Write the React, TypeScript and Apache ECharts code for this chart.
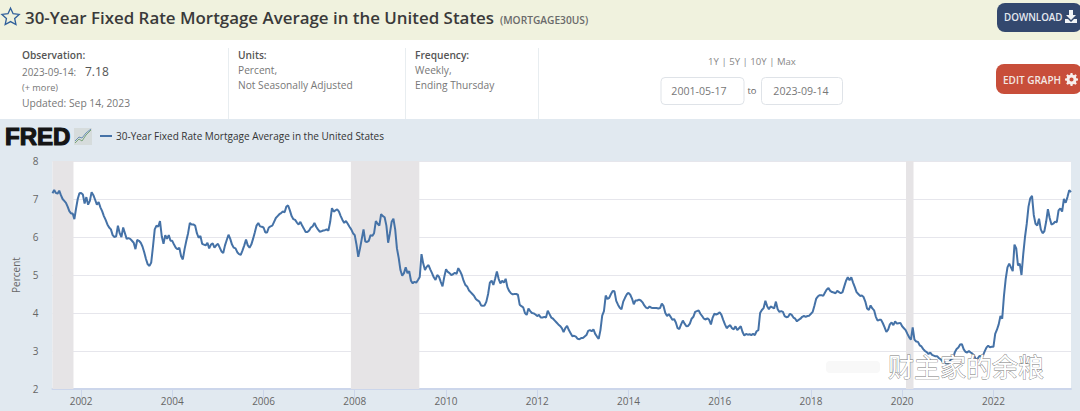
import React, { useEffect, useRef } from "react";
import * as echarts from "echarts";

const title = "30-Year Fixed Rate Mortgage Average in the United States";
const seriesId = "(MORTGAGE30US)";
const tickYears = [2002, 2004, 2006, 2008, 2010, 2012, 2014, 2016, 2018, 2020, 2022];

const rates2001 = [7.15,7.24,7.16,7.14,7.22,7.10,7.00,6.95,6.90,6.80,6.68,6.62,6.62,6.47,6.75,7.00,7.15];
const rates2002 = [7.16,7.12,6.88,7.05,6.85,6.95,7.18,7.10,6.98,6.85,6.92,6.78,6.68,6.55,6.45,6.33,6.25,6.20,6.05,6.00,6.02,6.30,6.10,6.00,6.25,6.10];
const rates2003 = [5.95,5.97,5.95,5.90,5.85,5.68,5.92,5.90,5.85,5.75,5.60,5.42,5.28,5.24,5.33,5.75,6.20,6.30,6.27,6.42,6.02,5.82,6.05,5.95,6.05,5.90];
const rates2004 = [5.90,5.80,5.72,5.68,5.72,5.50,5.41,5.68,5.90,6.10,6.37,6.33,6.33,6.30,6.10,5.98,6.03,5.82,5.80,5.78,5.85,5.70,5.80,5.83,5.72,5.78];
const rates2005 = [5.82,5.72,5.62,5.58,5.78,5.92,6.06,5.95,5.80,5.72,5.70,5.60,5.55,5.53,5.65,5.78,5.93,5.78,5.72,5.80,5.95,6.12,6.30,6.37,6.28,6.27];
const rates2006 = [6.25,6.12,6.12,6.25,6.28,6.30,6.40,6.50,6.55,6.60,6.63,6.67,6.65,6.80,6.83,6.70,6.55,6.47,6.45,6.38,6.33,6.40,6.30,6.22,6.13,6.13];
const rates2007 = [6.17,6.25,6.28,6.37,6.27,6.20,6.14,6.15,6.17,6.18,6.20,6.17,6.40,6.76,6.67,6.70,6.73,6.67,6.55,6.45,6.37,6.42,6.35,6.27,6.20,6.10];
const rates2008 = [6.05,5.80,5.48,5.70,5.95,6.20,5.88,5.87,5.90,6.05,6.03,6.10,6.42,6.35,6.30,6.60,6.55,6.52,6.30,5.85,6.10,6.40,6.48,6.20,5.70,5.45];
const rates2009 = [5.13,4.98,5.05,5.20,5.05,5.10,4.85,4.78,4.82,4.80,4.87,4.95,5.55,5.30,5.13,5.22,5.26,5.15,5.05,4.94,4.87,5.00,4.95,4.82,4.70,4.95];
const rates2010 = [5.15,5.08,5.05,5.00,5.02,5.06,5.03,5.18,5.10,5.00,4.85,4.74,4.70,4.60,4.55,4.50,4.45,4.37,4.33,4.30,4.20,4.19,4.20,4.30,4.50,4.80];
const rates2011 = [4.85,4.74,4.90,5.09,4.90,4.78,4.85,4.80,4.90,4.68,4.58,4.52,4.49,4.50,4.50,4.48,4.22,4.18,4.15,4.00,3.95,4.12,4.05,4.00,3.99,3.96];
const rates2012 = [3.92,3.95,3.88,3.88,3.90,3.88,4.06,3.97,3.88,3.85,3.80,3.75,3.70,3.66,3.60,3.50,3.60,3.66,3.55,3.47,3.39,3.40,3.38,3.32,3.31,3.34];
const rates2013 = [3.34,3.38,3.42,3.53,3.55,3.52,3.57,3.45,3.38,3.32,3.55,3.93,4.05,4.46,4.37,4.40,4.50,4.58,4.57,4.32,4.22,4.14,4.10,4.30,4.40,4.49];
const rates2014 = [4.53,4.48,4.38,4.23,4.33,4.33,4.35,4.33,4.28,4.20,4.14,4.12,4.17,4.14,4.13,4.13,4.13,4.12,4.13,4.25,4.18,4.00,3.92,3.97,3.90,3.82];
const rates2015 = [3.84,3.75,3.60,3.58,3.70,3.80,3.72,3.65,3.66,3.72,3.85,3.90,4.03,4.05,4.07,3.98,3.92,3.85,3.83,3.86,3.82,3.70,3.88,3.98,3.96,3.98];
const rates2016 = [4.02,3.95,3.82,3.70,3.60,3.65,3.68,3.60,3.57,3.65,3.55,3.60,3.65,3.50,3.41,3.45,3.43,3.44,3.42,3.45,3.42,3.52,3.55,4.00,4.08,4.13];
const rates2017 = [4.32,4.18,4.10,4.17,4.15,4.12,4.30,4.10,4.03,4.05,4.03,3.92,3.89,3.90,3.98,3.95,3.88,3.85,3.78,3.82,3.85,3.90,3.92,3.90,3.92,3.93];
const rates2018 = [3.98,4.03,4.20,4.38,4.44,4.47,4.47,4.45,4.54,4.62,4.66,4.58,4.55,4.54,4.52,4.58,4.55,4.52,4.55,4.70,4.85,4.94,4.86,4.94,4.80,4.68];
const rates2019 = [4.55,4.50,4.45,4.46,4.42,4.30,4.12,4.08,4.20,4.12,4.07,3.90,3.80,3.82,3.82,3.73,3.62,3.50,3.56,3.70,3.75,3.68,3.78,3.72,3.73,3.74];
const rates2020 = [3.65,3.60,3.55,3.45,3.36,3.30,3.62,3.30,3.25,3.24,3.15,3.12,3.05,3.00,2.97,2.92,2.96,2.90,2.88,2.86,2.86,2.81,2.78,2.72,2.72,2.67];
const rates2021 = [2.67,2.73,2.79,2.81,2.97,3.05,3.09,3.17,3.18,3.05,2.98,2.96,3.00,2.96,2.93,2.88,2.78,2.80,2.87,2.86,2.88,2.99,3.09,3.14,3.10,3.11];
const rates2022 = [3.11,3.45,3.56,3.70,3.92,3.85,4.45,4.90,5.20,5.30,5.20,5.10,5.80,5.70,5.25,5.30,5.00,5.55,6.00,6.35,6.80,7.02,7.08,6.58,6.35,6.30];
const rates2023 = [6.48,6.20,6.10,6.15,6.40,6.73,6.50,6.33,6.35,6.40,6.39,6.70,6.75,6.67,7.00,6.90,7.05,7.23,7.18];

const yearly: [number, number[]][] = [
  [2001, rates2001],[2002, rates2002],[2003, rates2003],[2004, rates2004],[2005, rates2005],[2006, rates2006],
  [2007, rates2007],[2008, rates2008],[2009, rates2009],[2010, rates2010],[2011, rates2011],[2012, rates2012],
  [2013, rates2013],[2014, rates2014],[2015, rates2015],[2016, rates2016],[2017, rates2017],[2018, rates2018],
  [2019, rates2019],[2020, rates2020],[2021, rates2021],[2022, rates2022],[2023, rates2023],
];

const startTime = new Date(2001, 4, 17).getTime();
const endTime = new Date(2023, 8, 14).getTime();

const points: [number, number][] = [];
yearly.forEach(([year, values]) => {
  const from = year === 2001 ? startTime : new Date(year, 0, 1).getTime();
  const to = new Date(year + 1, 0, 1).getTime();
  const step = year === 2023 ? (endTime - from) / (values.length - 1) : (to - from) / values.length;
  values.forEach((v, i) => points.push([from + i * step, v]));
});

const recessions: [number[], number[]][] = [
  [[2001, 4, 17], [2001, 10, 1]],
  [[2007, 11, 1], [2009, 5, 1]],
  [[2020, 1, 1], [2020, 3, 1]],
];

const STAR = "M12 2.5l2.9 6.3 6.9.8-5.1 4.7 1.4 6.8-6.1-3.4-6.1 3.4 1.4-6.8L2.2 9.6l6.9-.8z";
const ARROW = "M4 0h4v5h3l-5 5-5-5h3zM0 9h3l3 3 3-3h3v4H0z";
const GEAR = "M6 0h2l.4 1.8 1.3.5 1.6-1 1.4 1.4-1 1.6.5 1.3L14 6v2l-1.8.4-.5 1.3 1 1.6-1.4 1.4-1.6-1-1.3.5L8 14H6l-.4-1.8-1.3-.5-1.6 1-1.4-1.4 1-1.6-.5-1.3L0 8V6l1.8-.4.5-1.3-1-1.6L2.7 1.3l1.6 1 1.3-.5zM7 4.8a2.2 2.2 0 1 0 0 4.4 2.2 2.2 0 1 0 0-4.4z";
echarts.graphic.registerShape("starIcon", echarts.graphic.extendPath(STAR as any, {}) as any);
echarts.graphic.registerShape("arrowIcon", echarts.graphic.extendPath(ARROW as any, {}) as any);
echarts.graphic.registerShape("gearIcon", echarts.graphic.extendPath(GEAR as any, {}) as any);

const sans = '"Open Sans", "DejaVu Sans", sans-serif';
const txt = (text: string, x: number, y: number, size: number, color: string, extra: any = {}, styleExtra: any = {}) => ({
  type: "text", x, y, silent: true, z: 50, ...extra,
  style: { text, fontSize: size, fill: color, fontFamily: sans, textVerticalAlign: "middle", ...styleExtra },
});
const box = (x: number, y: number, w: number, h: number, fill: string, r: any = 0, stroke?: string) => ({
  type: "rect", silent: true, z: 10, shape: { x, y, width: w, height: h, r },
  style: { fill, stroke: stroke ?? "none", lineWidth: stroke ? 1 : 0 },
});

export default function App() {
  const ref = useRef<HTMLDivElement>(null);
  useEffect(() => {
    const chart = echarts.init(ref.current!, undefined, { renderer: "svg" });
    const tickValues = tickYears.map((y) => new Date(y, 0, 1).getTime());
    chart.setOption({
      animation: false,
      backgroundColor: "#e1e9f0",
      grid: { left: 52.5, right: 9, top: 161, bottom: 22, show: true, backgroundColor: "#ffffff", borderWidth: 0 },
      xAxis: {
        type: "value",
        min: startTime,
        max: endTime,
        splitLine: { show: false },
        axisLine: { onZero: false, lineStyle: { color: "#ccd6eb", width: 2 } },
        axisTick: { show: true, length: 9, lineStyle: { color: "#ccd6eb" }, customValues: tickValues },
        axisLabel: {
          color: "#666666", fontSize: 10, fontFamily: sans, margin: 7,
          customValues: tickValues,
          formatter: (v: number) => String(new Date(v).getFullYear()),
          hideOverlap: false,
        },
      },
      yAxis: {
        type: "value", min: 2, max: 8, interval: 1,
        name: "Percent", nameLocation: "middle", nameGap: 32, nameRotate: 90,
        nameTextStyle: { color: "#666666", fontSize: 10, fontFamily: sans },
        axisLine: { show: false },
        axisTick: { show: false },
        axisLabel: { color: "#666666", fontSize: 10, fontFamily: sans, margin: 14 },
        splitLine: { lineStyle: { color: "#e6e6ec", width: 1 } },
      },
      series: [
        {
          type: "line",
          data: points,
          showSymbol: false,
          smooth: false,
          lineStyle: { color: "#4572a7", width: 2 },
          itemStyle: { color: "#4572a7" },
          markArea: {
            silent: true,
            itemStyle: { color: "#e6e4e6" },
            data: recessions.map(([a, b]) => [
              { xAxis: new Date(a[0], a[1], a[2]).getTime() },
              { xAxis: new Date(b[0], b[1], b[2]).getTime() },
            ]),
          },
          z: 5,
        },
      ],
      graphic: {
        elements: [
          box(0, 0, 1080, 40, "#f0f2de"),
          box(0, 40, 1080, 79, "#ffffff"),
          { type: "starIcon", x: 0, y: 6, scaleX: 0.88, scaleY: 0.88, silent: true, z: 50, style: { fill: "none", stroke: "#2f5f9a", lineWidth: 1.5 } },
          txt(title, 25, 17.5, 16.9, "#3a3a3a", {}, { fontWeight: 600 }),
          txt(seriesId, 500, 20, 10.2, "#6a6a6a", {}, { fontWeight: 600 }),
          box(997, 3, 85, 29, "#33486e", 8),
          txt("DOWNLOAD", 1004, 17, 9.8, "#e6eaf0", {}, { fontWeight: 600 }),
          { type: "arrowIcon", x: 1065, y: 10, scaleX: 1, scaleY: 1, silent: true, z: 50, style: { fill: "#f0f3f6" } },
          box(996, 64, 86, 30, "#c84e3a", 8),
          txt("EDIT GRAPH", 1003, 79.5, 10, "#f3e8e4", {}, { fontWeight: 600 }),
          { type: "gearIcon", x: 1065, y: 73, scaleX: 0.93, scaleY: 0.93, silent: true, z: 50, style: { fill: "#f7efec" } },

          box(228, 48, 1, 71, "#e8edf0"),
          box(405, 48, 1, 71, "#e8edf0"),
          box(538, 48, 1, 71, "#e8edf0"),

          txt("Observation:", 22, 55, 10.2, "#555555", {}, { fontWeight: 600 }),
          txt("2023-09-14:", 22, 72, 9.9, "#777777"),
          txt("7.18", 85, 71.5, 12, "#555555"),
          txt("(+ more)", 22, 87.5, 9.2, "#777777"),
          txt("Updated: Sep 14, 2023", 22, 102.5, 10.3, "#777777"),
          txt("Units:", 238, 55, 10.2, "#555555", {}, { fontWeight: 600 }),
          txt("Percent,", 238, 70, 10.2, "#777777"),
          txt("Not Seasonally Adjusted", 238, 85, 10.2, "#777777"),
          txt("Frequency:", 415, 55, 10.2, "#555555", {}, { fontWeight: 600 }),
          txt("Weekly,", 415, 70, 10.2, "#777777"),
          txt("Ending Thursday", 415, 85, 10.2, "#777777"),
          txt("1Y | 5Y | 10Y | Max", 752, 61, 9.6, "#888888", {}, { textAlign: "center" }),
          box(661, 77.5, 83, 27, "#ffffff", 4, "#dfe3e8"),
          box(761.5, 77.5, 81, 27, "#ffffff", 4, "#dfe3e8"),
          txt("2001-05-17", 699, 91, 10.6, "#777777", {}, { textAlign: "center" }),
          txt("to", 752, 90.5, 9.4, "#666666", {}, { textAlign: "center" }),
          txt("2023-09-14", 801, 91, 10.6, "#777777", {}, { textAlign: "center" }),

          txt("FRED", 5, 136, 24, "#151515", {}, { fontFamily: '"Liberation Sans", Arial, sans-serif', fontWeight: 900, stroke: "#151515", lineWidth: 1.2 }),
          box(74, 128, 18, 17, "#d6dcdc"),
          { type: "polyline", silent: true, z: 50, shape: { points: [[75, 143], [79, 139], [82, 141], [86, 135], [91, 130]] }, style: { stroke: "#7aa37a", fill: "none", lineWidth: 1 } },
          { type: "polyline", silent: true, z: 50, shape: { points: [[75, 141], [79, 137], [82, 138], [86, 133], [91, 129]] }, style: { stroke: "#6b8fb5", fill: "none", lineWidth: 1 } },
          { type: "line", silent: true, z: 50, shape: { x1: 100, y1: 136, x2: 112, y2: 136 }, style: { stroke: "#4572a7", lineWidth: 2 } },
          txt(title, 116, 136, 10, "#333333"),

          { type: "rect", silent: true, z: 60, shape: { x: 826, y: 361, width: 54, height: 12, r: 4 }, style: { fill: "#f8f8f8", shadowBlur: 8, shadowColor: "#ffffff" } },
          { type: "text", silent: true, z: 61, x: 888, y: 365, style: { text: "财主家的余粮", fontSize: 26, fontFamily: '"Noto Sans CJK SC", sans-serif', fill: "#ffffff", stroke: "#777777", lineWidth: 0.8, textVerticalAlign: "middle" } },
        ],
      },
    });
    return () => chart.dispose();
  }, []);
  return <div ref={ref} style={{ position: "fixed", left: 0, top: 0, width: 1080, height: 411 }} />;
}
